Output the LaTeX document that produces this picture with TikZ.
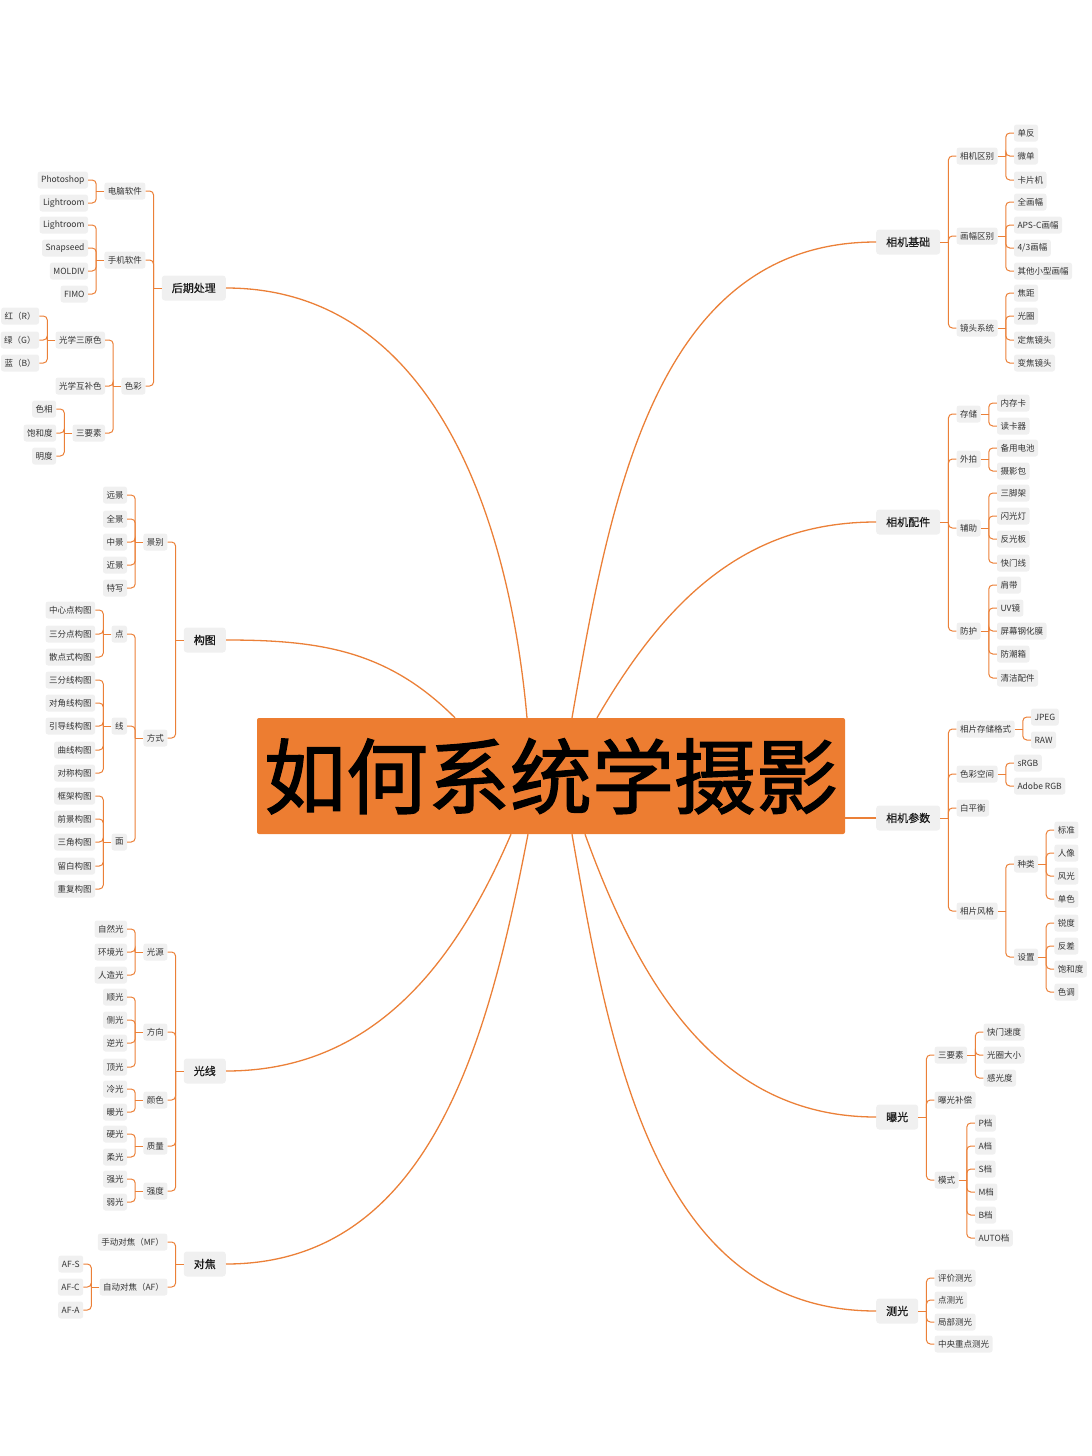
\documentclass[tikz,border=0pt]{standalone}
\usepackage{fontspec}
\newfontfamily\cjk{Noto Sans CJK SC}
\newfontfamily\cjktitle[FakeBold=1.6]{Noto Sans CJK SC}
\newfontfamily\cjktopic[FakeBold=0.7]{Noto Sans CJK SC}
\usepackage{xcolor}
\definecolor{TitleOrange}{HTML}{ED7D31}
\definecolor{LinkOrange}{HTML}{EB8038}
\definecolor{BoxGray}{HTML}{F0F0F0}
\definecolor{TextGray}{HTML}{333333}

\begin{document}
\begin{tikzpicture}[
    x=1pt, y=-1pt,
    % Environment Config
    font=\cjk,
    Title/.style={% Style for the central title
      fill=TitleOrange, text=black, rounded corners=2pt, inner sep=0pt,
      minimum width=588pt, minimum height=116pt,
      font=\cjktitle\fontsize{82}{90}\selectfont
    },
    Topic/.style={% Style for the main branches
      fill=BoxGray, text=black!90, rounded corners=3pt,
      inner xsep=10pt, inner ysep=0pt, minimum height=25pt,
      font=\cjktopic\fontsize{11}{13}\selectfont
    },
    Item/.style={% Style for the small boxes
      fill=BoxGray, text=TextGray, rounded corners=2.5pt,
      inner xsep=3.5pt, inner ysep=0pt, minimum height=17pt,
      font=\cjk\fontsize{8.5}{10}\selectfont
    },
    Link/.style={% Style for the bracket lines
      draw=LinkOrange, line width=1pt, rounded corners=4pt
    },
    Curve/.style={% Style for the lines to the title
      draw=LinkOrange, line width=1.3pt
    }
  ]

  \def\KidsL#1#2#3{% Children on the left of #1
    \draw[Link] (#1.west) -- ++(-8,0) coordinate (#1-b);
    \coordinate (#1-k) at ([xshift=-16pt]#1.west);
    \foreach \y/\txt [count=\idx] in {#3}{
      \node[Item, anchor=east] (#2-\idx) at (#1-k |- 0,\y) {\txt};
      \draw[Link] (#1-b) |- (#2-\idx.east);
    }
  }
  \def\KidsR#1#2#3{% Children on the right of #1
    \draw[Link] (#1.east) -- ++(8,0) coordinate (#1-b);
    \coordinate (#1-k) at ([xshift=16pt]#1.east);
    \foreach \y/\txt [count=\idx] in {#3}{
      \node[Item, anchor=west] (#2-\idx) at (#1-k |- 0,\y) {\txt};
      \draw[Link] (#1-b) |- (#2-\idx.west);
    }
  }

  \useasboundingbox (0,0) rectangle (1092,1456);

  % Put the title in position
  \node[Title] (Title) at (551,776) {如何系统学摄影};

  % Main branches
  \node[Topic, anchor=east] (PP) at (226,288) {后期处理};
  \node[Topic, anchor=east] (CO) at (226,640) {构图};
  \node[Topic, anchor=east] (LI) at (226,1071) {光线};
  \node[Topic, anchor=east] (FO) at (226,1264) {对焦};
  \node[Topic, anchor=west] (CB) at (876,242) {相机基础};
  \node[Topic, anchor=west] (CA) at (876,522) {相机配件};
  \node[Topic, anchor=west] (CP) at (876,818) {相机参数};
  \node[Topic, anchor=west] (EX) at (876,1117) {曝光};
  \node[Topic, anchor=west] (ME) at (876,1311) {测光};

  % Curves to the title
  \draw[Curve] (PP.east) .. controls +(205,0) and +(-18,-204) .. ([xshift=-24pt]Title.north);
  \draw[Curve] (CO.east) .. controls +(95,0) and +(-67,-67) .. ([xshift=-96pt]Title.north);
  \draw[Curve] (LI.east) .. controls +(145,0) and +(-57,133) .. ([xshift=-40pt]Title.south);
  \draw[Curve] (FO.east) .. controls +(206,0) and +(-39,202) .. ([xshift=-23pt]Title.south);
  \draw[Curve] (CB.west) .. controls +(-221,0) and +(38,-218) .. ([xshift=21pt]Title.north);
  \draw[Curve] (CA.west) .. controls +(-133,0) and +(67,-115) .. ([xshift=46pt]Title.north);
  \draw[Curve] (CP.west) -- (CP.west -| Title.east);
  \draw[Curve] (EX.west) .. controls +(-159,0) and +(54,149) .. ([xshift=34pt]Title.south);
  \draw[Curve] (ME.west) .. controls +(-221,0) and +(38,218) .. ([xshift=21pt]Title.south);

  %===后期处理===
  \KidsL{PP}{PP}{191/电脑软件,260/手机软件,386/色彩}
  \KidsL{PP-1}{PC}{180/Photoshop,203/Lightroom}
  \KidsL{PP-2}{PM}{225/Lightroom,248/Snapseed,271/MOLDIV,294/FIMO}
  \KidsL{PP-3}{PK}{340/光学三原色,386/光学互补色,433/三要素}
  \KidsL{PK-1}{RGB}{316/红（R）,340/绿（G）,363/蓝（B）}
  \KidsL{PK-3}{HSV}{409/色相,433/饱和度,456/明度}

  %===构图===
  \KidsL{CO}{CO}{542/景别,738/方式}
  \KidsL{CO-1}{SC}{495/远景,519/全景,542/中景,565/近景,588/特写}
  \KidsL{CO-2}{WY}{634/点,726/线,842/面}
  \KidsL{WY-1}{DT}{610/中心点构图,634/三分点构图,657/散点式构图}
  \KidsL{WY-2}{LN}{680/三分线构图,703/对角线构图,726/引导线构图,750/曲线构图,773/对称构图}
  \KidsL{WY-3}{PL}{796/框架构图,819/前景构图,842/三角构图,866/留白构图,889/重复构图}

  %===光线===
  \KidsL{LI}{LI}{952/光源,1032/方向,1100/颜色,1146/质量,1191/强度}
  \KidsL{LI-1}{LS}{929/自然光,952/环境光,975/人造光}
  \KidsL{LI-2}{LD}{997/顺光,1020/侧光,1043/逆光,1067/顶光}
  \KidsL{LI-3}{LC}{1089/冷光,1112/暖光}
  \KidsL{LI-4}{LQ}{1134/硬光,1157/柔光}
  \KidsL{LI-5}{LT}{1179/强光,1202/弱光}

  %===对焦===
  \KidsL{FO}{FO}{1242/手动对焦（MF）,1287/自动对焦（AF）}
  \KidsL{FO-2}{AF}{1264/AF-S,1287/AF-C,1310/AF-A}

  %===相机基础===
  \KidsR{CB}{CB}{156/相机区别,236/画幅区别,328/镜头系统}
  \KidsR{CB-1}{CD}{133/单反,156/微单,180/卡片机}
  \KidsR{CB-2}{FR}{202/全画幅,225/APS-C画幅,248/{4/3画幅},271/其他小型画幅}
  \KidsR{CB-3}{LE}{293/焦距,316/光圈,340/定焦镜头,363/变焦镜头}

  %===相机配件===
  \KidsR{CA}{CA}{414/存储,459/外拍,528/辅助,631/防护}
  \KidsR{CA-1}{ST}{403/内存卡,426/读卡器}
  \KidsR{CA-2}{OU}{448/备用电池,471/摄影包}
  \KidsR{CA-3}{AU}{493/三脚架,516/闪光灯,539/反光板,563/快门线}
  \KidsR{CA-4}{PR}{585/肩带,608/UV镜,631/屏幕钢化膜,654/防潮箱,678/清洁配件}

  %===相机参数===
  \KidsR{CP}{CP}{729/相片存储格式,774/色彩空间,808/白平衡,911/相片风格}
  \KidsR{CP-1}{FM}{717/JPEG,740/RAW}
  \KidsR{CP-2}{CS}{763/sRGB,786/Adobe RGB}
  \KidsR{CP-4}{PS}{864/种类,957/设置}
  \KidsR{PS-1}{KD}{830/标准,853/人像,876/风光,899/单色}
  \KidsR{PS-2}{SE}{923/锐度,946/反差,969/饱和度,992/色调}

  %===曝光===
  \KidsR{EX}{EX}{1055/三要素,1100/曝光补偿,1180/模式}
  \KidsR{EX-1}{TR}{1032/快门速度,1055/光圈大小,1078/感光度}
  \KidsR{EX-3}{MD}{1123/P档,1146/A档,1169/S档,1192/M档,1215/B档,1238/AUTO档}

  %===测光===
  \KidsR{ME}{ME}{1278/评价测光,1300/点测光,1322/局部测光,1344/中央重点测光}

\end{tikzpicture}
\end{document}
